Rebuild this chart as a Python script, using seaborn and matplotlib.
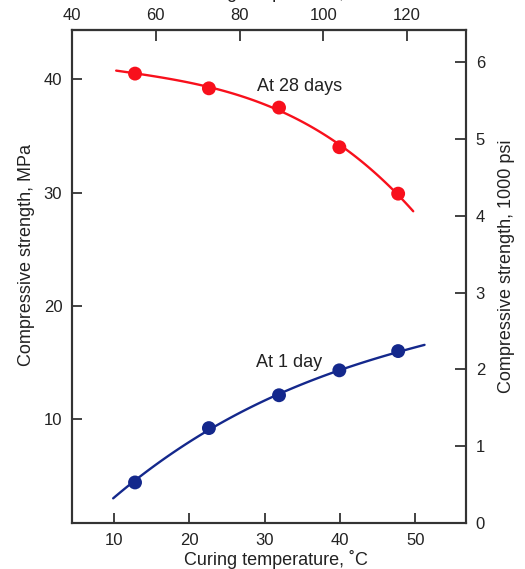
import numpy as np
import pandas as pd
import matplotlib
matplotlib.use("Agg")
import matplotlib.pyplot as plt
import seaborn as sns

# ---- data ----
temp_c = [12.8, 22.6, 31.9, 39.9, 47.7]
strength_28d = [40.5, 39.2, 37.5, 34.0, 29.9]
strength_1d = [4.4, 9.2, 12.1, 14.3, 16.0]
# ends of the drawn trend curves (temperature, strength)
curve_28d_ends = [(10.3, 40.8), (49.7, 28.3)]
curve_1d_ends = [(9.9, 3.1), (51.2, 16.5)]
bottom_ticks = [10, 20, 30, 40, 50]
left_ticks = [10, 20, 30, 40]
top_ticks = [40, 60, 80, 100, 120]
right_ticks = [0, 1, 2, 3, 4, 5, 6]

sns.set_style("ticks")
plt.rcParams["font.family"] = ["Liberation Sans", "DejaVu Sans"]

RED = "#f8101c"
BLUE = "#14288c"
SPINE = "#333333"
TXT = "#222222"

fig = plt.figure(figsize=(5.25, 5.69), dpi=100)
ax = fig.add_axes([72 / 525, 1 - 523 / 569, 394 / 525, 493 / 569])

df = pd.DataFrame({"temp": temp_c, "d28": strength_28d, "d1": strength_1d})

# smooth trend curves fitted through the read points and curve ends
for col, ends, color in [("d28", curve_28d_ends, RED), ("d1", curve_1d_ends, BLUE)]:
    xs_fit = [ends[0][0]] + temp_c + [ends[1][0]]
    ys_fit = [ends[0][1]] + list(df[col]) + [ends[1][1]]
    coef = np.polyfit(xs_fit, ys_fit, 3)
    xs = np.linspace(ends[0][0], ends[1][0], 120)
    sns.lineplot(x=xs, y=np.polyval(coef, xs), ax=ax, color=color, lw=1.7)
    sns.scatterplot(x="temp", y=col, data=df, ax=ax, color=color, s=100,
                    edgecolor="none", zorder=3)

ax.set_xlim(4.44, 56.7)
ax.set_ylim(0.82, 44.35)
ax.set_xticks(bottom_ticks)
ax.set_yticks(left_ticks)
ax.set_xlabel("Curing temperature, ˚C", fontsize=13, color=TXT)
ax.set_ylabel("Compressive strength, MPa", fontsize=13, color=TXT)
ax.xaxis.set_label_coords(0.518, -0.055)
ax.yaxis.set_label_coords(-0.094, 0.544)

ax.text(29.0, 39.4, "At 28 days", fontsize=13, va="center", ha="left", color=TXT)
ax.text(28.8, 15.0, "At 1 day", fontsize=13, va="center", ha="left", color=TXT)

# right axis (1000 psi)
axr = ax.twinx()
axr.set_ylim(0, 6.42)
axr.set_yticks(right_ticks)
axr.set_ylabel("Compressive strength, 1000 psi", fontsize=13, color=TXT)
axr.yaxis.set_label_coords(1.08, 0.521)

# top axis (°F)
axt = ax.secondary_xaxis("top", functions=(lambda c: c * 9 / 5 + 32,
                                           lambda f: (f - 32) * 5 / 9))
axt.set_xticks(top_ticks)

for a in (ax, axr):
    for s in a.spines.values():
        s.set_visible(True)
        s.set_linewidth(1.5)
        s.set_color(SPINE)
for s in axt.spines.values():
    s.set_linewidth(1.5)
    s.set_color(SPINE)

ax.tick_params(axis="both", direction="in", length=7, width=1.3, colors=SPINE,
               labelsize=12, labelcolor=TXT, pad=7)
axr.tick_params(axis="y", direction="in", length=8, width=1.3, colors=SPINE,
                labelsize=12, labelcolor=TXT, pad=7)
axt.tick_params(axis="x", direction="in", length=8, width=1.3, colors=SPINE,
                labelsize=12, labelcolor=TXT, pad=5)

# top axis title, mostly cut off by the canvas edge as in the reference
fig.text(0.524, 1 - 2.5 / 569, "Curing temperature, ˚F", fontsize=13,
         ha="center", va="bottom", color=TXT)

fig.savefig("out.png", dpi=100, facecolor="white")
